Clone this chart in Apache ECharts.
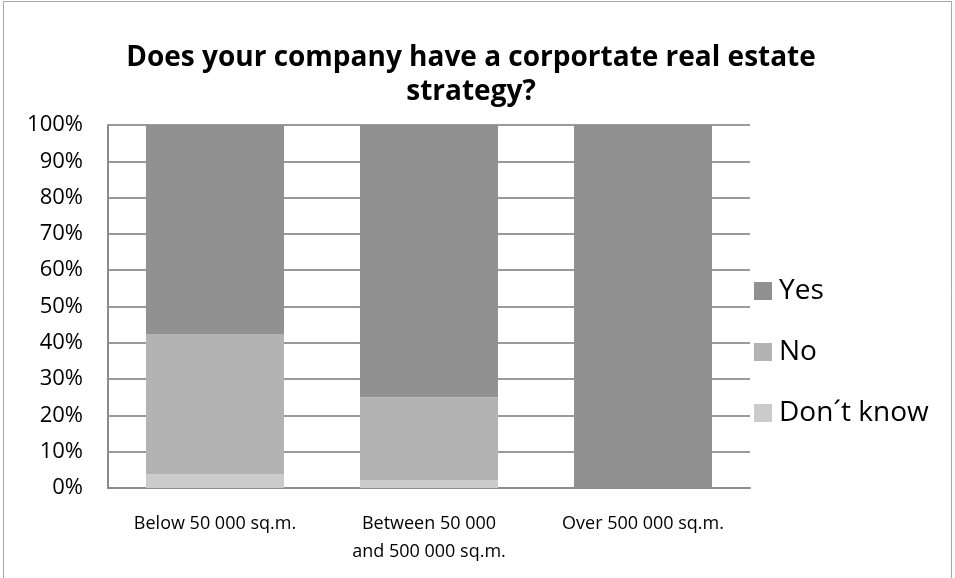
<!DOCTYPE html>
<html>
<head>
<meta charset="utf-8">
<script src="https://cdn.jsdelivr.net/npm/echarts@6/dist/echarts.min.js"></script>
<style>
  html, body { margin: 0; padding: 0; background: #fff; }
  #chart { width: 955px; height: 578px; }
</style>
</head>
<body>
<div id="chart"></div>
<script>
// Survey answers by portfolio size, shares in percent
const categories = ['Below 50 000 sq.m.', 'Between 50 000\nand 500 000 sq.m.', 'Over 500 000 sq.m.'];
const dontKnow = [3.8, 2.1, 0];
const no = [38.5, 22.9, 0];
const yes = [57.7, 75.0, 100];
const yTicks = { min: 0, max: 100, interval: 10 };

const FONT = '"Open Sans", "Noto Sans", sans-serif';
const chart = echarts.init(document.getElementById('chart'), null, { renderer: 'canvas' });

function barSeries(name, data, color) {
  return {
    name: name,
    type: 'bar',
    stack: 'total',
    data: data,
    barWidth: '64.5%',
    itemStyle: { color: color },
    emphasis: { disabled: true }
  };
}

chart.setOption({
  animation: false,
  backgroundColor: '#fff',
  title: {
    text: 'Does your company have a corportate real estate\nstrategy?',
    left: 466,
    textAlign: 'center',
    top: 36,
    textStyle: { fontFamily: FONT, fontSize: 28, fontWeight: 'bold', color: '#000', lineHeight: 34 }
  },
  graphic: [{
    type: 'rect',
    shape: { x: 3.5, y: 1.5, width: 948, height: 590 },
    style: { fill: 'none', stroke: '#a6a6a6', lineWidth: 1 },
    silent: true
  }],
  legend: {
    orient: 'vertical',
    left: 754,
    top: 274,
    itemWidth: 18,
    itemHeight: 18,
    itemGap: 27,
    padding: 0,
    icon: 'rect',
    data: ['Yes', 'No', 'Don´t know'],
    textStyle: { fontFamily: FONT, fontSize: 28, lineHeight: 28, color: '#000', padding: [6, 0, 0, 2] }
  },
  grid: { left: 108, right: 205, top: 125, bottom: 90, containLabel: false },
  xAxis: {
    type: 'category',
    data: categories,
    axisLine: { show: true, lineStyle: { color: '#8c8c8c', width: 2 } },
    axisTick: { show: false },
    axisLabel: { interval: 0, fontFamily: FONT, fontSize: 18, color: '#000', lineHeight: 28, margin: 22 }
  },
  yAxis: {
    type: 'value',
    min: yTicks.min,
    max: yTicks.max,
    interval: yTicks.interval,
    axisLine: { show: true, lineStyle: { color: '#8c8c8c', width: 2 } },
    axisTick: { show: false },
    splitLine: { show: true, lineStyle: { color: '#9a9a9a', width: 2 } },
    axisLabel: { formatter: '{value}%', fontFamily: FONT, fontSize: 22, color: '#000', margin: 25 }
  },
  series: [
    barSeries('Don´t know', dontKnow, '#cbcbcb'),
    barSeries('No', no, '#b3b3b3'),
    barSeries('Yes', yes, '#919191')
  ]
});
</script>
</body>
</html>
